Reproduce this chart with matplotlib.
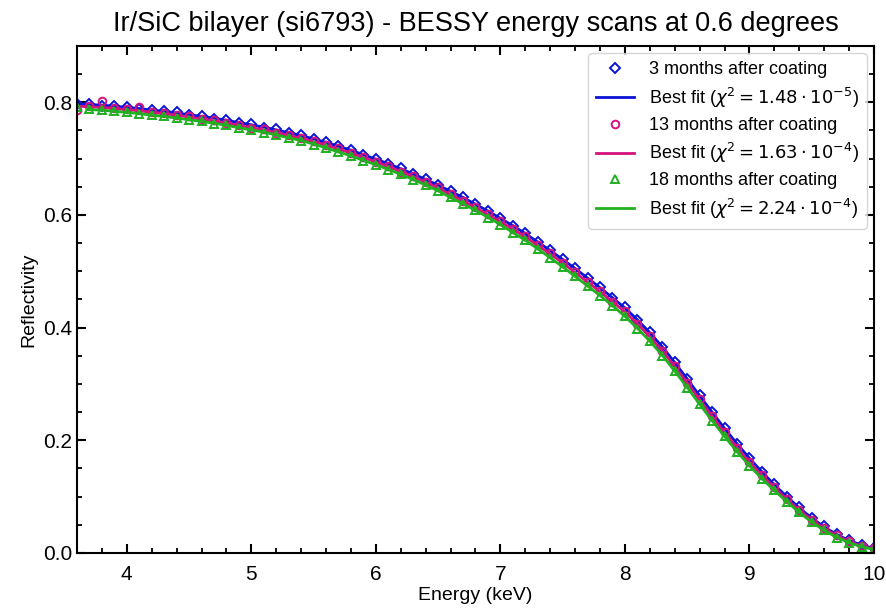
import numpy as np
import matplotlib
matplotlib.use("Agg")
import matplotlib.pyplot as plt
from matplotlib.ticker import AutoMinorLocator

plt.rcParams['font.family'] = ['Liberation Sans', 'DejaVu Sans']
plt.rcParams['mathtext.fontset'] = 'dejavusans'

# measurement grid (keV)
energy = np.round(np.arange(3.6, 10.05, 0.1), 1)

# 3 months after coating
refl_3m = [0.797, 0.797, 0.794, 0.794, 0.792, 0.788, 0.787, 0.784, 0.782, 0.778,
           0.776, 0.771, 0.769, 0.764, 0.761, 0.755, 0.752, 0.746, 0.742, 0.735,
           0.730, 0.722, 0.716, 0.707, 0.700, 0.691, 0.683, 0.673, 0.664, 0.653,
           0.643, 0.631, 0.620, 0.607, 0.595, 0.581, 0.568, 0.552, 0.538, 0.521,
           0.506, 0.488, 0.472, 0.453, 0.436, 0.414, 0.392, 0.366, 0.339, 0.309,
           0.280, 0.250, 0.222, 0.194, 0.169, 0.144, 0.122, 0.100, 0.081, 0.062,
           0.047, 0.033, 0.023, 0.014, 0.009]
fit_3m = [0.797, 0.796, 0.795, 0.793, 0.791, 0.789, 0.786, 0.784, 0.781, 0.778,
          0.775, 0.772, 0.768, 0.764, 0.760, 0.756, 0.751, 0.746, 0.741, 0.735,
          0.729, 0.722, 0.715, 0.707, 0.699, 0.691, 0.682, 0.673, 0.663, 0.653,
          0.642, 0.631, 0.619, 0.607, 0.594, 0.581, 0.567, 0.552, 0.537, 0.521,
          0.505, 0.488, 0.471, 0.453, 0.435, 0.414, 0.391, 0.366, 0.338, 0.309,
          0.279, 0.250, 0.221, 0.194, 0.168, 0.144, 0.121, 0.100, 0.080, 0.062,
          0.046, 0.033, 0.022, 0.014, 0.008]

# 13 months after coating
refl_13m = [0.787, 0.793, 0.802, 0.790, 0.788, 0.791, 0.782, 0.781, 0.777, 0.775,
            0.770, 0.768, 0.763, 0.760, 0.755, 0.752, 0.746, 0.742, 0.736, 0.731,
            0.724, 0.718, 0.710, 0.703, 0.694, 0.687, 0.677, 0.669, 0.658, 0.649,
            0.637, 0.625, 0.614, 0.601, 0.589, 0.575, 0.562, 0.546, 0.532, 0.515,
            0.499, 0.481, 0.465, 0.446, 0.429, 0.407, 0.385, 0.359, 0.332, 0.302,
            0.273, 0.243, 0.215, 0.187, 0.162, 0.138, 0.117, 0.095, 0.077, 0.059,
            0.044, 0.031, 0.021, 0.012, 0.008]
fit_13m = [0.793, 0.792, 0.791, 0.789, 0.787, 0.785, 0.782, 0.780, 0.777, 0.774,
           0.770, 0.767, 0.763, 0.759, 0.755, 0.751, 0.746, 0.741, 0.736, 0.730,
           0.724, 0.717, 0.710, 0.702, 0.694, 0.686, 0.677, 0.668, 0.658, 0.648,
           0.636, 0.625, 0.613, 0.601, 0.588, 0.575, 0.561, 0.546, 0.531, 0.515,
           0.498, 0.481, 0.464, 0.446, 0.428, 0.407, 0.384, 0.359, 0.331, 0.302,
           0.272, 0.243, 0.214, 0.187, 0.161, 0.138, 0.116, 0.095, 0.076, 0.059,
           0.043, 0.031, 0.020, 0.012, 0.007]

# 18 months after coating
refl_18m = [0.792, 0.788, 0.786, 0.785, 0.782, 0.780, 0.778, 0.775, 0.772, 0.768,
            0.766, 0.762, 0.759, 0.754, 0.751, 0.746, 0.742, 0.736, 0.732, 0.725,
            0.719, 0.711, 0.705, 0.696, 0.689, 0.680, 0.672, 0.662, 0.653, 0.642,
            0.631, 0.619, 0.608, 0.595, 0.583, 0.568, 0.555, 0.539, 0.524, 0.507,
            0.491, 0.473, 0.457, 0.438, 0.420, 0.398, 0.376, 0.350, 0.323, 0.293,
            0.264, 0.234, 0.207, 0.179, 0.155, 0.131, 0.111, 0.090, 0.072, 0.055,
            0.040, 0.027, 0.018, 0.010, 0.006]
fit_18m = [0.787, 0.786, 0.784, 0.782, 0.780, 0.777, 0.775, 0.772, 0.769,
           0.766, 0.763, 0.759, 0.755, 0.751, 0.747, 0.742, 0.737, 0.732, 0.726,
           0.719, 0.712, 0.705, 0.697, 0.689, 0.681, 0.672, 0.663, 0.653, 0.643,
           0.631, 0.620, 0.608, 0.596, 0.583, 0.569, 0.555, 0.540, 0.524, 0.508,
           0.491, 0.474, 0.457, 0.439, 0.420, 0.399, 0.376, 0.351, 0.323, 0.294,
           0.264, 0.235, 0.207, 0.180, 0.155, 0.132, 0.111, 0.091, 0.072, 0.055,
           0.040, 0.028, 0.018, 0.011, 0.006]

labels = ['3 months after coating', '13 months after coating', '18 months after coating']
chi2 = [r'1.48 \cdot 10^{-5}', r'1.63 \cdot 10^{-4}', r'2.24 \cdot 10^{-4}']
colors = ['#0a14d6', '#d4137f', '#20b020']
markers = ['D', 'o', '^']
msizes = [5.5, 5.5, 6]

fig = plt.figure(figsize=(8.87, 6.13), dpi=100)
ax = fig.add_axes([0.0868, 0.098, 0.8985, 0.827])

series = [(energy, refl_3m, energy, fit_3m),
          (energy, refl_13m, energy, fit_13m),
          (energy, refl_18m, energy[1:], fit_18m)]

for i, (xd, yd, xf, yf) in enumerate(series):
    ax.plot(xd, yd, linestyle='none', marker=markers[i], markersize=msizes[i],
            markerfacecolor='none', markeredgecolor=colors[i], markeredgewidth=1.4,
            label=labels[i])
    ax.plot(xf, yf, color=colors[i], lw=2,
            label=r'Best fit ($\chi^2 = %s$)' % chi2[i])

ax.set_xlim(3.6, 10)
ax.set_ylim(0, 0.9)
ax.set_yticks([0.0, 0.2, 0.4, 0.6, 0.8])
ax.xaxis.set_minor_locator(AutoMinorLocator(5))
ax.yaxis.set_minor_locator(AutoMinorLocator(4))
ax.tick_params(which='both', direction='in', top=True, right=True, labelsize=15)
ax.tick_params(which='major', length=6.5, width=1.5)
ax.tick_params(which='minor', length=3.5, width=1.3)
ax.tick_params(axis='x', which='major', pad=9)
for s in ax.spines.values():
    s.set_linewidth(1.5)

ax.set_xlabel('Energy (keV)', fontsize=14, labelpad=2)
ax.set_ylabel('Reflectivity', fontsize=14)
ax.set_title('Ir/SiC bilayer (si6793) - BESSY energy scans at 0.6 degrees',
             fontsize=19.5, pad=11)

leg = ax.legend(loc='upper right', fontsize=13, handlelength=2.1, borderpad=0.45,
                labelspacing=0.4, borderaxespad=0.4)
leg.get_frame().set_edgecolor('#cccccc')

fig.savefig('out.png', dpi=100)
